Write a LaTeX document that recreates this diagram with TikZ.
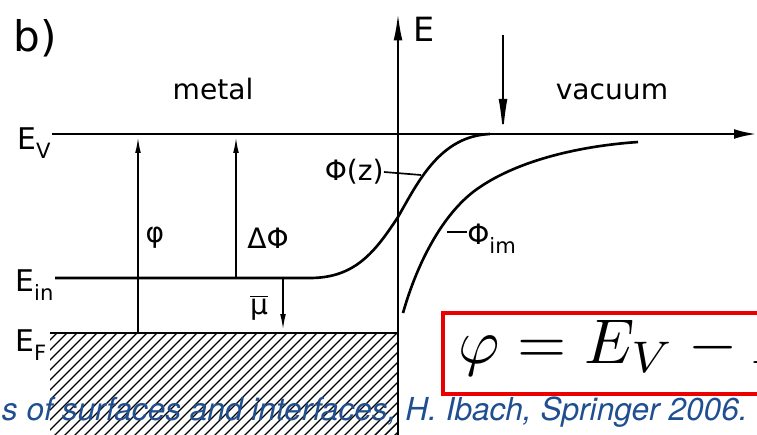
\documentclass[tikz,border=0pt]{standalone}
\usepackage[no-math]{fontspec}
\newfontfamily\lblfont{DejaVu Sans}
\newfontfamily\capfont{TeX Gyre Heros}
\usetikzlibrary{arrows.meta}
\definecolor{capblue}{RGB}{31,78,145}
\definecolor{boxred}{RGB}{235,0,0}
\newcommand\lsub[1]{\raisebox{-0.55ex}{\fontsize{12}{12}\selectfont #1}}
\newcommand\fs[1]{\fontsize{#1}{#1}\selectfont}
\begin{document}
\begin{tikzpicture}[x=0.02cm,y=-0.02cm,
  ln/.style={line width=1.5pt},
  thinln/.style={line width=0.95pt},
  hatch/.style={line width=0.8pt},
  lbl/.style={inner sep=0pt,font=\lblfont\fs{16}},
  smallhead/.style={-{Latex[length=9pt,width=3.2pt]}},
]
\useasboundingbox (0,0) rectangle (757,435);
\clip (0,0) rectangle (757,435);

% coordinates
\coordinate (EVl) at (52,134);
\coordinate (EVr) at (757,134);
\coordinate (Axb) at (398,440);
\coordinate (Axt) at (398,14);
\coordinate (EFl) at (50,333);
\coordinate (EFr) at (398,333);
\coordinate (EIl) at (55,278);
\coordinate (EIr) at (310,278);
\coordinate (Zmid) at (398,217);
\coordinate (Zend) at (490,134);
\coordinate (dA0) at (503,35);
\coordinate (dA1) at (503,134);
\coordinate (ph0) at (138,333);
\coordinate (ph1) at (138,137);
\coordinate (dp0) at (236,278);
\coordinate (dp1) at (236,137);
\coordinate (mu0) at (283,278);
\coordinate (mu1) at (283,330);
\coordinate (Im0) at (403,313);
\coordinate (Im1) at (480,187);
\coordinate (Im2) at (638,142);
\coordinate (zc) at (421,175);
\coordinate (ic) at (447,232);

% hatching
\begin{scope}
  \clip (50,333) rectangle (398,440);
  \foreach \i in {-110,-100,...,400}
    \draw[hatch] (\i,440) -- ++(112,-112);
\end{scope}

% axes and levels
\draw[line width=1.1pt,-{Latex[length=15pt,width=5pt]}] (Axb) -- (Axt);
\draw[ln,-{Latex[length=13pt,width=5.5pt]}] (EVl) -- (EVr);
\draw[ln] (EFl) -- (EFr);
\draw[ln] (EIl) -- (EIr) .. controls (355,278) and (375,252) .. (Zmid)
   .. controls (418,182) and (440,136) .. (Zend);
\draw[ln] (Im0) .. controls (418,260) and (445,210) .. (Im1)
   .. controls (520,160) and (580,146) .. (Im2);

% arrows
\draw[thinln,-{Latex[length=20pt,width=5pt]}] (dA0) -- (dA1);
\draw[thinln,smallhead] (ph0) -- (ph1);
\draw[thinln,smallhead] (dp0) -- (dp1);
\draw[thinln,smallhead] (mu0) -- (mu1);

% labels
\node[lbl,anchor=base west,font=\lblfont\fs{24}] (b) at (13,52) {b)};
\node[lbl,anchor=base west,font=\lblfont\fs{19}] (E) at (413,42) {E};
\node[lbl,anchor=base] (metal) at (213,100) {metal};
\node[lbl,anchor=base] (vac) at (612,100) {vacuum};
\node[lbl,anchor=base west,font=\lblfont\fs{17}] (EV) at (17,150) {E\lsub{V}};
\node[lbl,anchor=base west,font=\lblfont\fs{17}] (Ein) at (15,292) {E\lsub{in}};
\node[lbl,anchor=base west,font=\lblfont\fs{17}] (EF) at (15,352) {E\lsub{F}};
\node[lbl] (phi) at (155,238) {φ};
\node[lbl] (dphi) at (268,238) {ΔΦ};
\node[lbl] (mub) at (259,308) {$\overline{\mbox{\lblfont\fs{16}μ}}$};
\node[lbl,anchor=east] (phiz) at (384,172) {Φ(z)};
\node[lbl,anchor=base west] (phiim) at (467,245) {Φ\lsub{im}};
\draw[thinln] (phiz.east) -- (zc);
\draw[thinln] (ic) -- (phiim.west |- ic);

% formula box
\draw[boxred,line width=1.8pt,fill=white] (443,313) rectangle (790,394);
\node[anchor=base west,inner sep=0pt] (form) at (458,363) {\scalebox{3.6}{$\varphi = E_V - E_F$}};

% caption
\node[anchor=base east,inner sep=0pt,text=capblue,font=\capfont\itshape\fs{18}] (cap) at (748,420)
  {s of surfaces and interfaces, H. Ibach, Springer 2006.};
\end{tikzpicture}
\end{document}
